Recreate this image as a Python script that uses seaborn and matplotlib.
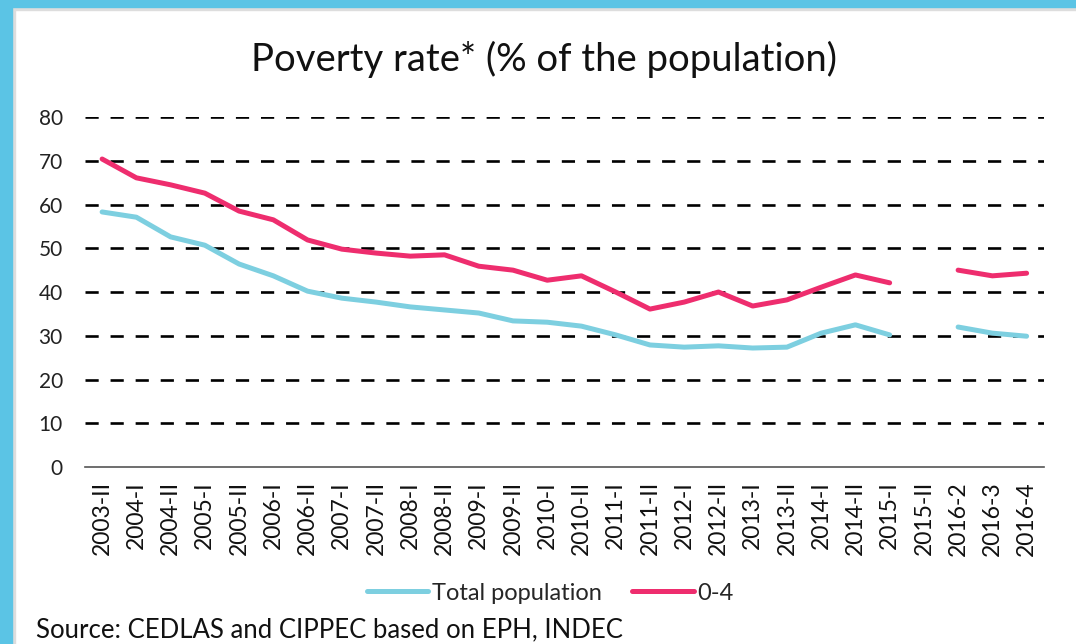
import numpy as np
import pandas as pd
import seaborn as sns
import matplotlib.pyplot as plt
from matplotlib.patches import Rectangle

# periods on the x axis
periods = ["2003-II", "2004-I", "2004-II", "2005-I", "2005-II", "2006-I", "2006-II",
           "2007-I", "2007-II", "2008-I", "2008-II", "2009-I", "2009-II", "2010-I",
           "2010-II", "2011-I", "2011-II", "2012-I", "2012-II", "2013-I", "2013-II",
           "2014-I", "2014-II", "2015-I", "2015-II", "2016-2", "2016-3", "2016-4"]

# poverty rate, % of population (no data for 2015-II)
total_pop = [58.3, 57.1, 52.6, 50.7, 46.4, 43.7, 40.2, 38.6, 37.7, 36.6, 35.9, 35.2,
             33.4, 33.1, 32.2, 30.2, 27.9, 27.4, 27.7, 27.2, 27.4, 30.6, 32.5, 30.2,
             np.nan, 32.0, 30.6, 29.9]
age_0_4 = [70.4, 66.1, 64.5, 62.6, 58.5, 56.5, 51.9, 49.8, 48.9, 48.2, 48.5, 45.9,
           45.0, 42.7, 43.7, 40.0, 36.1, 37.7, 40.0, 36.8, 38.2, 41.1, 43.9, 42.1,
           np.nan, 45.0, 43.7, 44.3]

yticks = [0, 10, 20, 30, 40, 50, 60, 70, 80]

# long table, with a segment id so the line breaks at the gap
rows = []
for name, vals in [("Total population", total_pop), ("0-4", age_0_4)]:
    seg = 0
    for i, v in enumerate(vals):
        if np.isnan(v):
            seg += 1
            continue
        rows.append({"x": i, "value": v, "series": name, "seg": seg})
df = pd.DataFrame(rows)

sns.set_theme(style="white")
plt.rcParams["font.family"] = ["Lato", "DejaVu Sans"]

fig = plt.figure(figsize=(10.76, 6.44), dpi=100)
ax = fig.add_axes([0.079, 0.2748, 0.891, 0.5435])

sns.lineplot(data=df, x="x", y="value", hue="series", units="seg", estimator=None,
             palette={"Total population": "#7DCFE0", "0-4": "#EE2D6E"},
             linewidth=3.6, ax=ax, legend=True)

ax.set_xlim(-0.5, len(periods) - 0.5)
ax.set_ylim(0, 80)
ax.set_yticks(yticks)
ax.set_yticklabels([str(t) for t in yticks], fontsize=15, color="#222222")
ax.set_xticks(range(len(periods)))
ax.set_xticklabels(periods, rotation=90, fontsize=16.5, color="#111111")
ax.tick_params(axis="y", length=0, pad=16)
ax.tick_params(axis="x", length=0, pad=10)
ax.set_xlabel("")
ax.set_ylabel("")

for t in yticks[1:]:
    ax.axhline(t, color="black", linestyle=(0, (5, 4.5)), linewidth=1.9, zorder=0)

for s in ["top", "right", "left"]:
    ax.spines[s].set_visible(False)
ax.spines["bottom"].set_color("#555555")
ax.spines["bottom"].set_linewidth(1.2)

ax.legend(loc="center", bbox_to_anchor=(0.485, -0.36), ncol=2, frameon=False,
          fontsize=17, handlelength=2.6, handletextpad=0.15, columnspacing=1.3)

fig.text(0.506, 0.907, "Poverty rate* (% of the population)", ha="center", va="center",
         fontsize=27.5, color="#111111")
fig.text(0.033, 0.022, "Source: CEDLAS and CIPPEC based on EPH, INDEC", ha="left",
         va="center", fontsize=18.5, color="#111111")

# blue frame at top and left
fig.patches.append(Rectangle((0, 1 - 7 / 644), 1, 7 / 644, transform=fig.transFigure,
                             color="#5BC4E5", zorder=10))
fig.patches.append(Rectangle((0, 0), 12 / 1076, 1, transform=fig.transFigure,
                             color="#5BC4E5", zorder=10))
fig.patches.append(Rectangle((12 / 1076, 1 - 10 / 644), 1, 3 / 644, transform=fig.transFigure,
                             color="#DDDDDD", zorder=9))
fig.patches.append(Rectangle((12 / 1076, 0), 3 / 1076, 1 - 7 / 644, transform=fig.transFigure,
                             color="#DDDDDD", zorder=9))

fig.savefig("out.png", dpi=100)
